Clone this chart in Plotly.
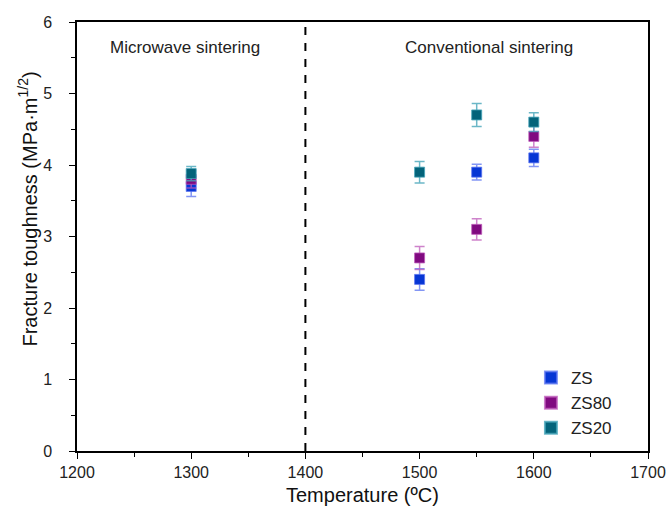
import plotly.graph_objects as go

temps = [1300, 1500, 1550, 1600]
zs = [3.70, 2.40, 3.90, 4.10]
zs_err = [0.14, 0.15, 0.11, 0.12]
zs80 = [3.80, 2.70, 3.10, 4.40]
zs80_err = [0.12, 0.16, 0.15, 0.15]
zs20 = [3.88, 3.90, 4.70, 4.60]
zs20_err = [0.10, 0.15, 0.16, 0.13]

series = [
    ("ZS", zs, zs_err, "#0636d4", "rgba(90,115,240,0.75)"),
    ("ZS80", zs80, zs80_err, "#800a80", "rgba(190,90,185,0.75)"),
    ("ZS20", zs20, zs20_err, "#03637a", "rgba(70,165,185,0.8)"),
]

fig = go.Figure()
for name, vals, errs, col, ecol in series:
    fig.add_trace(go.Scatter(
        x=temps, y=vals, mode="markers", name=name,
        marker=dict(symbol="square", size=10, color=col,
                    line=dict(width=1, color=ecol)),
        error_y=dict(type="data", array=errs, visible=True,
                     color=ecol, thickness=1.5, width=5),
    ))

fig.add_shape(type="line", x0=1400, x1=1400, y0=0, y1=6, xref="x", yref="y",
              line=dict(color="black", width=2, dash="8px,8px"))

fig.add_annotation(x=1295, y=5.65, xref="x", yref="y", text="Microwave sintering",
                   showarrow=False, font=dict(size=17, color="#222"))
fig.add_annotation(x=1561, y=5.65, xref="x", yref="y", text="Conventional sintering",
                   showarrow=False, font=dict(size=17, color="#222"))

fig.add_annotation(x=-0.086, y=0.565, xref="paper", yref="paper",
                   text="Fracture toughness (MPa·m<sup>1/2</sup>)", textangle=-90,
                   showarrow=False, xanchor="center", yanchor="middle",
                   font=dict(size=20, color="#111"))
fig.add_annotation(x=0.5, y=-0.103, xref="paper", yref="paper",
                   text="Temperature (ºC)", showarrow=False,
                   xanchor="center", yanchor="middle",
                   font=dict(size=20, color="#111"))

axis_common = dict(showline=True, linecolor="black", linewidth=1.5, mirror=True,
                   ticks="outside", tickcolor="black", ticklen=6, tickwidth=1,
                   showgrid=False, zeroline=False, automargin=False,
                   tickfont=dict(size=16, color="#222"))

fig.update_xaxes(range=[1200, 1700], dtick=100, tick0=1200,
                 minor=dict(ticks="outside", dtick=50, ticklen=4, tickcolor="black"),
                 **axis_common)
fig.update_yaxes(range=[0, 6], dtick=1, tick0=0, ticklabelstandoff=14,
                 minor=dict(ticks="outside", dtick=0.5, ticklen=4, tickcolor="black"),
                 **axis_common)

fig.update_layout(
    width=671, height=517,
    margin=dict(l=77, r=23, t=22, b=66),
    plot_bgcolor="white", paper_bgcolor="white",
    font=dict(family="Liberation Sans, Arial, sans-serif", color="#222"),
    legend=dict(x=0.795, y=0.212, xanchor="left", yanchor="top",
                bgcolor="rgba(0,0,0,0)", font=dict(size=17, color="#222"),
                itemsizing="constant", tracegroupgap=0),
    showlegend=True,
)

fig.write_html("out.html", config={"displayModeBar": False},
               post_script="document.body.style.margin='0px';document.body.style.overflow='hidden';")
